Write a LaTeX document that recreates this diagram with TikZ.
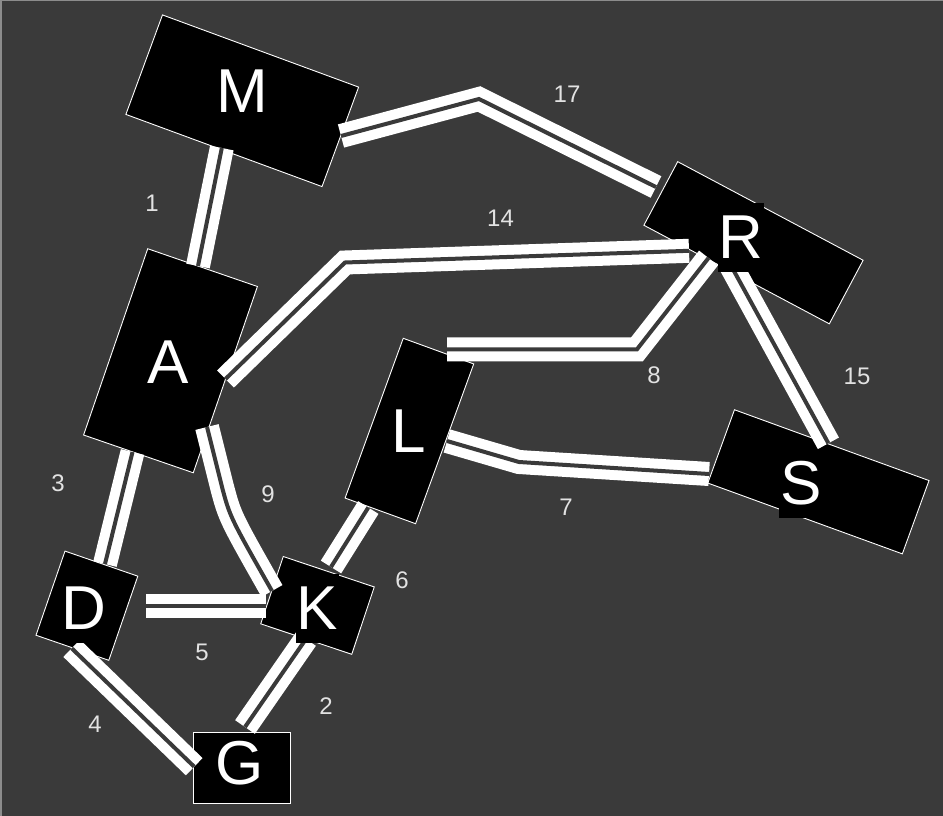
\documentclass[tikz,border=0pt]{standalone}
\usepackage{fontspec}
\setmainfont{Liberation Sans}
\definecolor{bgc}{HTML}{3A3A3A}
\definecolor{numc}{HTML}{E2E2E2}
\definecolor{edgec}{HTML}{8C8C8C}
\begin{document}
\begin{tikzpicture}[x=1pt,y=-1pt,
  box/.style={draw=white, line width=0.9pt, fill=black, inner sep=0pt, outer sep=0pt},
  conn/.style={draw=white, line width=10pt, double=bgc, double distance=4pt},
  letter/.style={fill=black, text=white, font=\fontsize{62}{70}\selectfont,
    inner xsep=1pt, inner ysep=0pt, text height=55pt, text depth=14pt, anchor=base},
  num/.style={text=numc, font=\fontsize{24}{28}\selectfont, inner sep=0pt}]
\fill[bgc] (0,0) rectangle (943,816);
\useasboundingbox (0,0) rectangle (943,816);
\fill[edgec] (0,0) rectangle (2,816);
\fill[edgec] (0,0) rectangle (943,1.5);

% boxes
\node[box, minimum width=209pt, minimum height=106pt, rotate=-20.2] (M) at (242.25,100.75) {};
\node[box, minimum width=116pt, minimum height=197pt, rotate=-19] (A) at (170.5,360.75) {};
\node[box, minimum width=210pt, minimum height=72pt, rotate=-28] (R) at (753.5,242.75) {};
\node[box, minimum width=75pt, minimum height=170pt, rotate=-20] (L) at (409.4,431) {};
\node[box, minimum width=207pt, minimum height=78pt, rotate=-20] (S) at (818.4,481.8) {};
\node[box, minimum width=77pt, minimum height=89pt, rotate=-19] (D) at (86.9,605.7) {};
\node[box, minimum width=96pt, minimum height=71pt, rotate=-18.5] (K) at (317.5,605.4) {};
\node[box, minimum width=97pt, minimum height=71pt] (G) at (241.7,768) {};

% connector end points and bends
\coordinate (M-1) at (221.8,148);
\coordinate (A-1) at (198,266);
\coordinate (M-17) at (341,136);
\coordinate (b17) at (479,99);
\coordinate (R-17) at (656,187);
\coordinate (A-14) at (225.5,379);
\coordinate (b14) at (345,262.5);
\coordinate (R-14) at (689,250.8);
\coordinate (A-3) at (132.5,452);
\coordinate (D-3) at (105,564);
\coordinate (A-9) at (207,427);
\coordinate (b9a) at (222,487);
\coordinate (b9b) at (230,517);
\coordinate (K-9) at (272,591);
\coordinate (L-8) at (447,349.3);
\coordinate (b8) at (637,349.3);
\coordinate (R-8) at (708.5,258);
\coordinate (L-7) at (447,441);
\coordinate (b7) at (519,462);
\coordinate (S-7) at (709,474);
\coordinate (L-6) at (368.3,507.5);
\coordinate (K-6) at (331,567);
\coordinate (R-15) at (729,262);
\coordinate (S-15) at (828.4,443.3);
\coordinate (D-5) at (146,606);
\coordinate (K-5) at (266,606);
\coordinate (D-4) at (71.7,648.3);
\coordinate (G-4) at (194.2,766.7);
\coordinate (K-2) at (306,639);
\coordinate (G-2) at (245,727);

% connectors
\draw[conn] (M-1) -- (A-1);
\draw[conn] (M-17) -- (b17) -- (R-17);
\draw[conn] (A-14) -- (b14) -- (R-14);
\draw[conn] (A-3) -- (D-3);
\draw[conn] (A-9) -- (b9a) .. controls (b9b) .. (K-9);
\draw[conn] (L-8) -- (b8) -- (R-8);
\draw[conn] (L-7) -- (b7) -- (S-7);
\draw[conn] (L-6) -- (K-6);
\draw[conn] (R-15) -- (S-15);
\draw[conn] (D-5) -- (K-5);
\draw[conn] (D-4) -- (G-4);
\draw[conn] (K-2) -- (G-2);

% box letters
\node[letter] (Mt) at (242.5,113) {M};
\node[letter] (Rt) at (741,258) {R};
\node[letter] (At) at (168.3,383.3) {A};
\node[letter] (Lt) at (409,452) {L};
\node[letter] (St) at (801,504) {S};
\node[letter] (Dt) at (84,629) {D};
\node[letter] (Kt) at (317.5,629) {K};
\node[letter, text height=49pt, text depth=12pt] (Gt) at (240,784) {G};

% connector numbers
\node[num] (n17) at (567,94) {17};
\node[num] (n1) at (152,203) {1};
\node[num] (n14) at (500.5,218.5) {14};
\node[num] (n8) at (654,375.5) {8};
\node[num] (n15) at (857,376) {15};
\node[num] (n7) at (566,507) {7};
\node[num] (n3) at (58,483) {3};
\node[num] (n9) at (268,494) {9};
\node[num] (n6) at (402,580) {6};
\node[num] (n5) at (202,652) {5};
\node[num] (n2) at (326,706) {2};
\node[num] (n4) at (95,724) {4};
\end{tikzpicture}
\end{document}
